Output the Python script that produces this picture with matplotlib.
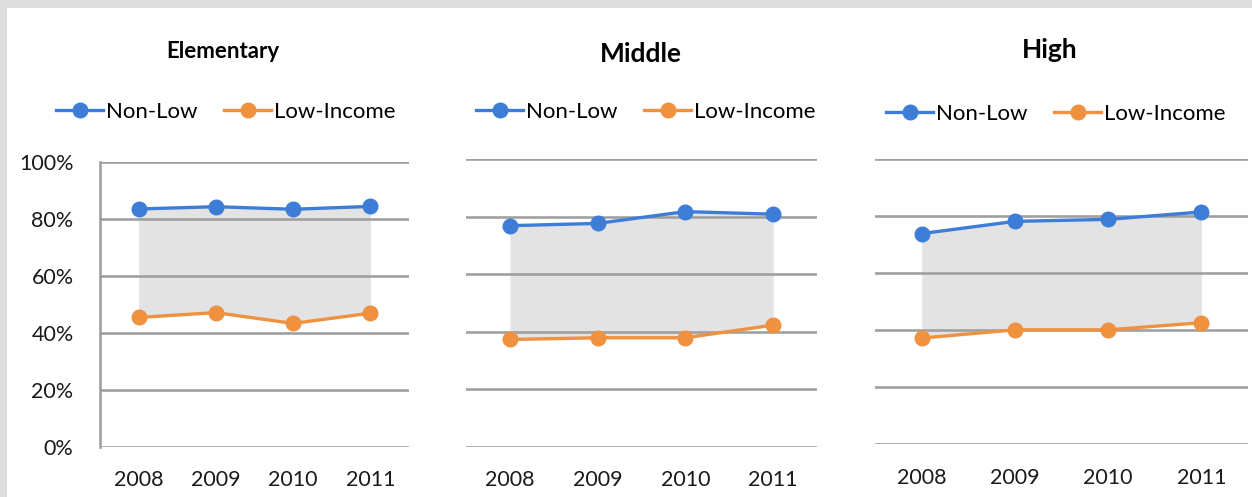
import matplotlib
matplotlib.use("Agg")
import matplotlib.pyplot as plt
from matplotlib.patches import Rectangle

# Share of students by school level and income group, 2008-2011
years = ["2008", "2009", "2010", "2011"]
levels = ["Elementary", "Middle", "High"]
non_low = {
    "Elementary": [83.5, 84.3, 83.4, 84.4],
    "Middle": [76.9, 77.7, 81.8, 80.9],
    "High": [73.9, 78.2, 78.9, 81.5],
}
low_income = {
    "Elementary": [45.4, 47.1, 43.3, 46.9],
    "Middle": [37.3, 37.9, 37.9, 42.3],
    "High": [37.2, 40.1, 40.1, 42.6],
}
y_ticks = [0, 20, 40, 60, 80, 100]
y_tick_labels = ["0%", "20%", "40%", "60%", "80%", "100%"]
series_names = ["Non-Low", "Low-Income"]

BLUE = "#3d7dd8"
ORANGE = "#f0913f"
GRID = "#a0a0a0"
FILL = "#e3e3e3"
TEXT = "#1a1a1a"
FONT = "Lato"

W, H = 1252, 497
fig = plt.figure(figsize=(W / 100, H / 100), dpi=100)
fig.patch.set_facecolor("#dedede")
fig.patches.append(Rectangle((7 / W, 0), 1 - 7 / W, 1 - 8 / H,
                             transform=fig.transFigure, facecolor="white",
                             edgecolor="none", zorder=-5))


def px_box(x0, x1, ytop, ybot):
    return [x0 / W, 1 - ybot / H, (x1 - x0) / W, (ybot - ytop) / H]


boxes = {
    "Elementary": px_box(100, 409, 162, 446.7),
    "Middle": px_box(466, 817, 159.3, 446.7),
    "High": px_box(875, 1248, 159.3, 444),
}
titles = {
    "Elementary": (223, 57.5, 16),
    "Middle": (641, 62.5, 19),
    "High": (1050, 57.5, 19),
}
legend_pos = {
    "Elementary": (226, 112),
    "Middle": (646, 112),
    "High": (1056, 114),
}

for level in levels:
    ax = fig.add_axes(boxes[level])
    ax.set_facecolor("none")
    x = list(range(len(years)))
    hi = non_low[level]
    lo = low_income[level]

    ax.fill_between(x, lo, hi, color=FILL, linewidth=0, zorder=1)
    for t in y_ticks:
        ax.axhline(t, color=GRID, linewidth=1.9, zorder=1.5)
    ax.plot(x, hi, color=BLUE, linewidth=2.4, marker="o", markersize=10.5,
            label=series_names[0], zorder=3)
    ax.plot(x, lo, color=ORANGE, linewidth=2.4, marker="o", markersize=10.5,
            label=series_names[1], zorder=3)

    ax.set_xlim(-0.5, len(years) - 0.5)
    ax.set_ylim(0, 100)
    ax.set_xticks(x)
    ax.set_xticklabels(years, fontsize=15.5, family=FONT, color=TEXT)
    ax.tick_params(axis="x", length=0, pad=17)
    for s in ["top", "right", "bottom"]:
        ax.spines[s].set_visible(False)

    if level == "Elementary":
        ax.spines["left"].set_color(GRID)
        ax.spines["left"].set_linewidth(1.9)
        ax.set_yticks(y_ticks)
        ax.set_yticklabels(y_tick_labels, fontsize=15.5, family=FONT,
                           color=TEXT)
        ax.tick_params(axis="y", length=0, pad=19)
    else:
        ax.spines["left"].set_visible(False)
        ax.set_yticks([])

    tx, ty, tsize = titles[level]
    fig.text(tx / W, 1 - ty / H, level, ha="center", va="baseline",
             fontsize=tsize, fontweight="bold", family=FONT, color="black")

    lx, ly = legend_pos[level]
    ax.legend(loc="center", bbox_to_anchor=(lx / W, 1 - ly / H),
              bbox_transform=fig.transFigure, ncol=2, frameon=False,
              prop={"family": FONT, "size": 16}, handlelength=2.1,
              handletextpad=0.15, columnspacing=1.2, borderpad=0,
              markerscale=1.0)

fig.savefig("out.png", dpi=100, facecolor=fig.get_facecolor())
